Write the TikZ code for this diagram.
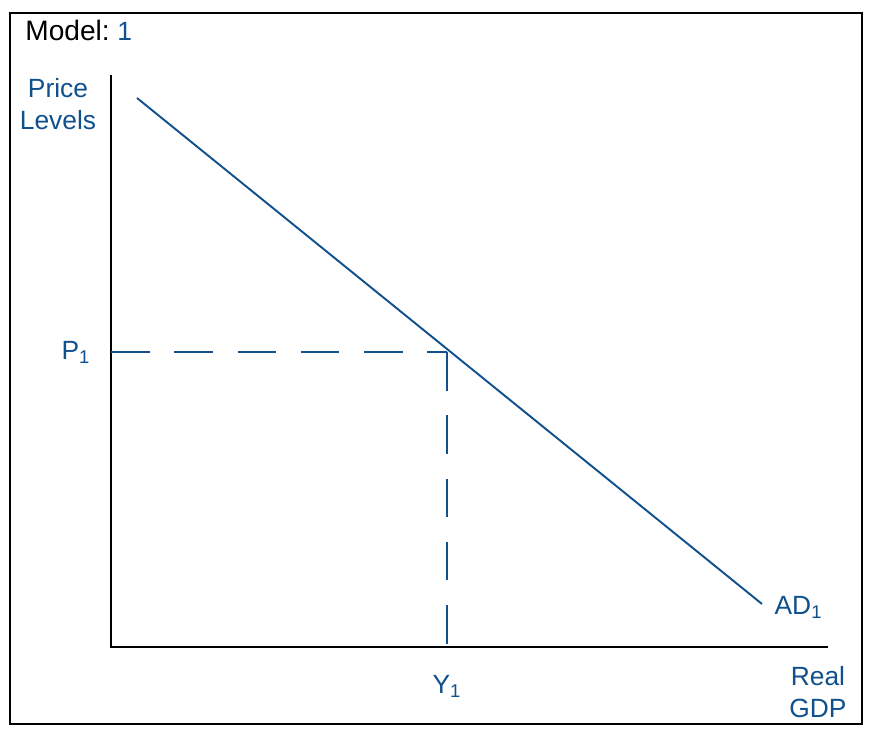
\documentclass[tikz,border=0pt]{standalone}
\usepackage{fontspec}
\setmainfont{Liberation Sans}
\usetikzlibrary{positioning}
\definecolor{inkblue}{RGB}{16,80,140}

\begin{document}
\begin{tikzpicture}[
    x=0.02cm, y=-0.02cm,
    axis/.style={draw=black, line width=1.4pt},
    curve/.style={draw=inkblue, line width=1.1pt},
    guide/.style={draw=inkblue, line width=1.1pt, dash pattern=on 22pt off 14pt},
    hand/.style={text=inkblue, font=\fontsize{15}{18}\selectfont, inner sep=1pt, align=center}
  ]
    \useasboundingbox (0,0) rectangle (871,739);
    \draw[line width=0.8pt] (10,13) rectangle (862,724);

    % title
    \node[anchor=base west, inner sep=0pt, font=\fontsize{16}{18}\selectfont] (title) at (25,41) {Model:};
    \node[hand, right=3pt of title.base east, anchor=base west] (modelno) {1};

    % axes
    \coordinate (origin) at (111,647);
    \coordinate (ytop) at (111,75);
    \coordinate (xend) at (828,647);
    \draw[axis] (ytop) -- (origin) -- (xend);

    % demand curve
    \coordinate (adstart) at (137,98);
    \coordinate (adend) at (762,604);
    \coordinate (eq) at (447,352);
    \draw[curve] (adstart) -- (adend);
    \draw[guide] (origin |- eq) -- (eq);
    \draw[guide] (eq) -- (eq |- origin);

    % labels
    \node[hand] (ylabel) at (58,104) {Price\\Levels};
    \node[hand] (plabel) at (76,352) {P\textsubscript{1}};
    \node[hand] (qlabel) at (447,686) {Y\textsubscript{1}};
    \node[hand, right=6pt of adend, yshift=-2pt] (adlabel) {AD\textsubscript{1}};
    \node[hand] (xlabel) at (818,692) {Real\\GDP};
  \end{tikzpicture}
\end{document}
